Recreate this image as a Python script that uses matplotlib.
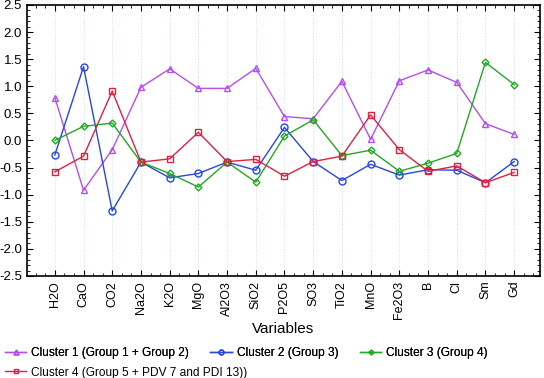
import matplotlib.pyplot as plt
from matplotlib.ticker import MultipleLocator, AutoMinorLocator

# variables on the x axis
variables = ['H2O', 'CaO', 'CO2', 'Na2O', 'K2O', 'MgO', 'Al2O3', 'SiO2', 'P2O5',
             'SO3', 'TiO2', 'MnO', 'Fe2O3', 'B', 'Cl', 'Sm', 'Gd']

# cluster means
cluster1 = [0.79, -0.92, -0.17, 0.98, 1.32, 0.96, 0.96, 1.33, 0.44,
            0.40, 1.09, 0.02, 1.10, 1.30, 1.07, 0.31, 0.11]
cluster2 = [-0.27, 1.36, -1.30, -0.40, -0.69, -0.61, -0.40, -0.55, 0.24,
            -0.39, -0.74, -0.44, -0.64, -0.54, -0.55, -0.78, -0.39]
cluster3 = [0.00, 0.26, 0.32, -0.40, -0.61, -0.86, -0.40, -0.77, 0.08,
            0.38, -0.28, -0.18, -0.57, -0.42, -0.24, 1.44, 1.03]
cluster4 = [-0.58, -0.29, 0.91, -0.40, -0.34, 0.15, -0.39, -0.35, -0.66,
            -0.39, -0.29, 0.47, -0.17, -0.57, -0.47, -0.78, -0.59]

labels = ['Cluster 1 (Group 1 + Group 2)', 'Cluster 2 (Group 3)',
          'Cluster 3 (Group 4)', 'Cluster 4 (Group 5 + PDV 7 and PDI 13))']

plt.rcParams['font.family'] = ['Liberation Sans', 'DejaVu Sans']

fig = plt.figure(figsize=(5.44, 3.78), dpi=100)
ax = fig.add_axes([0.0496, 0.27, 0.943, 0.717])

x = list(range(len(variables)))
l1, = ax.plot(x, cluster1, color='#b44ef0', marker='^', ms=5, mfc='none', lw=1)
l2, = ax.plot(x, cluster2, color='#2846e6', marker='o', ms=5, mfc='none', lw=1)
l3, = ax.plot(x, cluster3, color='#22a822', marker='D', ms=3.5, mfc='none', lw=1)
l4, = ax.plot(x, cluster4, color='#e02040', marker='s', ms=5, mfc='none', lw=1)

ax.set_xlim(-0.97, 16.9)
ax.set_ylim(-2.5, 2.5)
ax.set_xticks(x)
ax.set_xticklabels(variables, rotation=90, fontsize=9)
ax.xaxis.set_minor_locator(AutoMinorLocator(3))
ax.yaxis.set_major_locator(MultipleLocator(0.5))
ax.yaxis.set_minor_locator(MultipleLocator(0.1))
ax.yaxis.set_major_formatter(lambda v, p: '%.1f' % v)
ax.tick_params(axis='y', labelsize=9.5)
ax.tick_params(which='both', direction='in', top=True, right=True)
ax.tick_params(which='major', length=4)
ax.tick_params(which='minor', length=2)
ax.grid(axis='x', color='#cde0ee', lw=0.7, ls=':')
for s in ax.spines.values():
    s.set_linewidth(1.2)

ax.set_xlabel('Variables', fontsize=11, labelpad=2)

# legend: first row with clusters 1-3, second row cluster 4
leg_kw = dict(frameon=False, fontsize=8.6, handlelength=1.8, columnspacing=1.8,
              handletextpad=0.4, borderaxespad=0, markerscale=0.7)
leg1 = fig.legend([l1, l2, l3], labels[:3], loc='upper left',
                  bbox_to_anchor=(0.0, 0.095), ncol=3, **leg_kw)
fig.add_artist(leg1)
fig.legend([l4], labels[3:], loc='upper left', bbox_to_anchor=(0.0, 0.043), **leg_kw)

fig.savefig('out.png', dpi=100)
